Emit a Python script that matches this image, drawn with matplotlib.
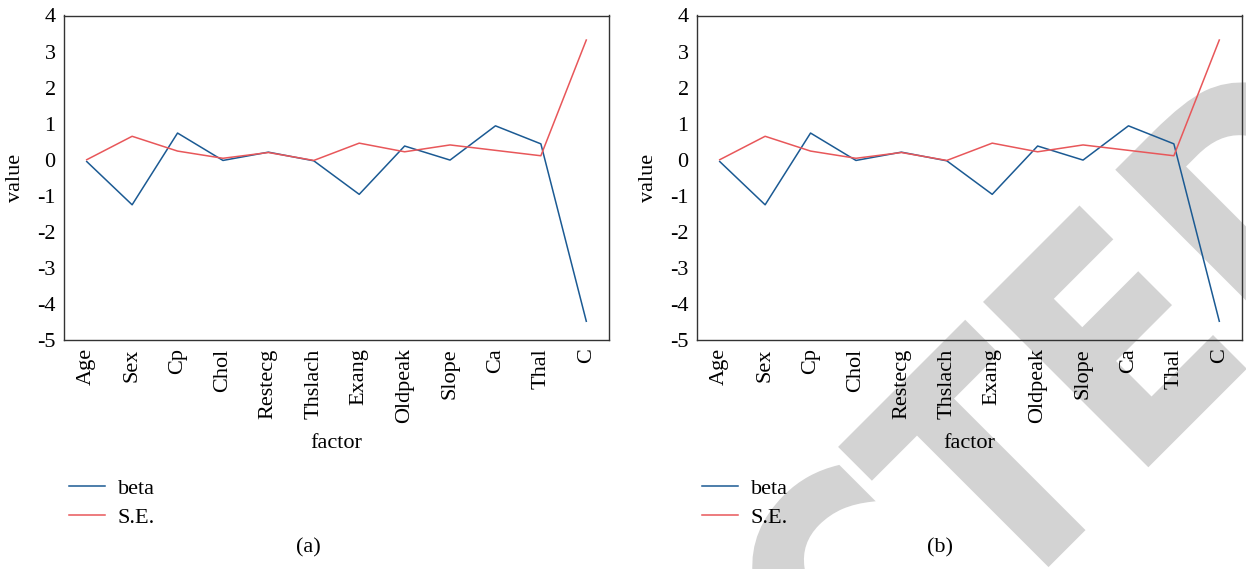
import matplotlib
matplotlib.use("Agg")
import matplotlib.pyplot as plt
from matplotlib.textpath import TextPath
from matplotlib.patches import PathPatch
from matplotlib.font_manager import FontProperties
from matplotlib.transforms import Affine2D

factors = ["Age", "Sex", "Cp", "Chol", "Restecg", "Thslach", "Exang",
           "Oldpeak", "Slope", "Ca", "Thal", "C"]
beta = [-0.05, -1.25, 0.74, -0.02, 0.21, -0.03, -0.96, 0.38, -0.01, 0.94, 0.44, -4.48]
se = [0.0, 0.65, 0.24, 0.04, 0.20, -0.02, 0.46, 0.22, 0.41, 0.26, 0.11, 3.32]
yticks = [-5, -4, -3, -2, -1, 0, 1, 2, 3, 4]
panel_labels = ["(a)", "(b)"]

BLUE = "#1b5a93"
RED = "#e8575a"
FS = 16

plt.rcParams["font.family"] = ["Liberation Serif", "DejaVu Serif"]
plt.rcParams["axes.unicode_minus"] = False

W, H = 1246, 569
fig = plt.figure(figsize=(W / 100, H / 100), dpi=100)

# ---- "RETRACTED" watermark behind panel (b): visible letters C, T, E, D ----
wm_prop = FontProperties(family="DejaVu Sans", weight="bold")
wm_letters = ["C", "T", "E", "D"]
wm_left = [100, 278, 483, 670]       # ink left edge along the 45 deg baseline
CAP, T_WIDTH, BASE = 231.0, 177.0, -1141.0
tp = TextPath((0, 0), "T", size=100, prop=wm_prop)
ext = tp.get_extents()
size = 100 * CAP / ext.height
sx = T_WIDTH / (ext.width * size / 100)
c45 = 0.70710678
for letter, s_left in zip(wm_letters, wm_left):
    p = TextPath((0, 0), letter, size=size, prop=wm_prop)
    e = p.get_extents()
    tr = (Affine2D().translate(-e.x0, 0).scale(sx, 1).rotate_deg(45)
          .translate(c45 * (s_left - BASE), H + c45 * (s_left + BASE)))
    patch = PathPatch(p, transform=tr, facecolor="#d3d3d3",
                      edgecolor="#d3d3d3", lw=2, zorder=-10)
    fig.patches.append(patch)

boxes = [(64, 609), (697, 1242)]
label_x = [308, 940]
top_px, bot_px = 15.5, 340
for i, (l, r) in enumerate(boxes):
    ax = fig.add_axes([l / W, 1 - bot_px / H, (r - l) / W, (bot_px - top_px) / H])
    ax.set_facecolor("none")
    x = list(range(len(factors)))
    ax.plot(x, beta, color=BLUE, lw=1.1, label="beta")
    ax.plot(x, se, color=RED, lw=1.1, label="S.E.")
    ax.set_xlim(-0.5, len(factors) - 0.5)
    ax.set_ylim(-5, 4)
    ax.set_yticks(yticks)
    ax.set_yticklabels([str(v) for v in yticks], fontsize=FS)
    ax.set_xticks(x)
    ax.set_xticklabels(factors, rotation=90, fontsize=FS)
    ax.tick_params(axis="both", length=0)
    ax.tick_params(axis="y", pad=6)
    ax.tick_params(axis="x", pad=6)
    for s in ax.spines.values():
        s.set_color("#333333")
        s.set_linewidth(1.0)
    ax.set_ylabel("value", fontsize=FS, labelpad=9)
    ax.set_xlabel("factor", fontsize=FS, labelpad=8)
    handles, labels = ax.get_legend_handles_labels()
    fig.legend(handles, labels, loc="upper left",
               bbox_to_anchor=((l - 15) / W, 1 - 458 / H),
               frameon=False, fontsize=FS, handlelength=1.6,
               handletextpad=0.6, labelspacing=0.4)
    fig.text(label_x[i] / W, 1 - 548 / H, panel_labels[i], fontsize=FS,
             ha="center", va="center")

fig.savefig("out.png", dpi=100)
